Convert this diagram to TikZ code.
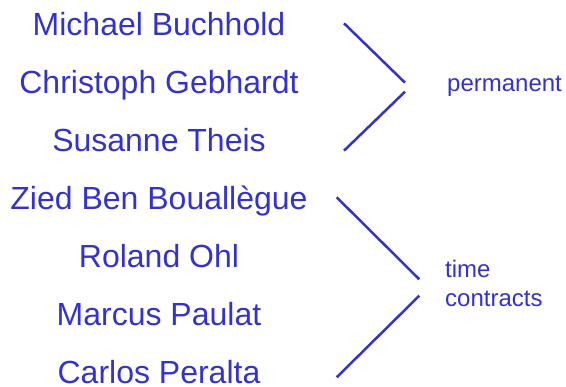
\documentclass[tikz,border=0pt]{standalone}
\usepackage{fontspec}
\setmainfont{Liberation Sans}
\usepackage{xcolor}
\usetikzlibrary{positioning}

\definecolor{namecol}{RGB}{51,51,204}

\begin{document}
\begin{tikzpicture}
[ 
x=1pt, y=1pt,
name-a/.style={inner sep=0pt, text height=23pt, text depth=5pt, text=namecol,
               font=\fontsize{32pt}{38pt}\selectfont},
text-a/.style={inner sep=0pt, align=left, text=namecol,
               font=\fontsize{24pt}{28.7pt}\selectfont},
line-a/.style={draw=namecol, line width=2.5pt}
]
\useasboundingbox (0,0) rectangle (566,-387);
\node (name-1) [name-a, anchor=base] at (159,-36) {Michael Buchhold};
\node (name-2) [name-a, below = 29.5pt of name-1] {Christoph Gebhardt};
\node (name-3) [name-a, below = 29.5pt of name-2] {Susanne Theis};
\node (name-4) [name-a, below = 29.5pt of name-3] {Zied Ben Bouallègue};
\node (name-5) [name-a, below = 29.5pt of name-4] {Roland Ohl};
\node (name-6) [name-a, below = 29.5pt of name-5] {Marcus Paulat};
\node (name-7) [name-a, below = 29.5pt of name-6] {Carlos Peralta};
\node (perm)   [text-a, anchor=base west] at (447,-91.7) {permanent};
\node (temp)   [text-a, anchor=base west] at (445,-306.7) {time\\contracts};
% upper bracket
\coordinate (perm-a) at (344,-23.3);
\coordinate (perm-b) at (405,-82.7);
\coordinate (perm-c) at (405,-91.7);
\coordinate (perm-d) at (344,-150.7);
% lower bracket
\coordinate (temp-a) at (336.7,-197.3);
\coordinate (temp-b) at (419.3,-279.3);
\coordinate (temp-c) at (419.3,-295.7);
\coordinate (temp-d) at (336.7,-377.3);
\draw [line-a] (perm-a) -- (perm-b);
\draw [line-a] (perm-c) -- (perm-d);
\draw [line-a] (temp-a) -- (temp-b);
\draw [line-a] (temp-c) -- (temp-d);
\end{tikzpicture}
\end{document}
